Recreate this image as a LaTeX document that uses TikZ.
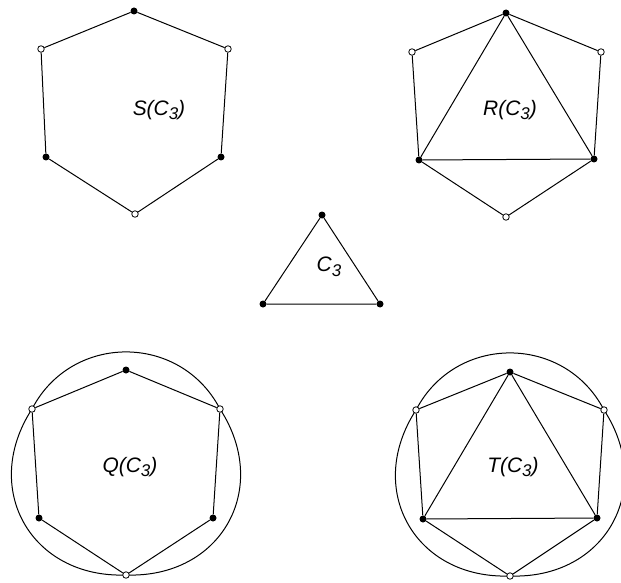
\documentclass[tikz,border=0pt]{standalone}
\usepackage{fontspec}
\setsansfont{Liberation Sans}
\usetikzlibrary{positioning}

\newcommand{\indice}[1]{\raisebox{-0.45ex}{\fontsize{17}{17}\selectfont #1}}

\tikzset{
  cheio/.style={circle, fill=black, inner sep=0pt, minimum size=7bp},
  vazio/.style={circle, draw=black, fill=white, line width=0.8bp, inner sep=0pt, minimum size=6.5bp},
  rotulo/.style={font=\sffamily\itshape\fontsize{21}{23}\selectfont, inner sep=0pt},
  aresta/.style={line width=1bp}
}

\begin{document}
\begin{tikzpicture}[x=1bp, y=-1bp]

\useasboundingbox (0,0) rectangle (621,583);

% Curvas fechadas
\draw[aresta] (32,409) .. controls (71.6,332.9) and (180.4,332.9) .. (220,409)
  .. controls (271.7,488.7) and (220.9,578.3) .. (126,575)
  .. controls (31.1,578.3) and (-19.7,488.7) .. (32,409);
\draw[aresta] (416,410) .. controls (455.6,333.9) and (564.4,333.9) .. (604,410)
  .. controls (655.7,489.7) and (604.9,579.3) .. (510,576)
  .. controls (415.1,579.3) and (364.3,489.7) .. (416,410);

% S(C3)
\node[cheio] (s1) at (134,11) {};
\node[vazio] (s2) at (41,49) {};
\node[vazio] (s3) at (228,49) {};
\node[cheio] (s4) at (46,157) {};
\node[cheio] (s5) at (221,157) {};
\node[vazio] (s6) at (135,214) {};
\draw[aresta] (s1) -- (s2) -- (s4) -- (s6) -- (s5) -- (s3) -- (s1);
\node[rotulo] (ls) at (159,110) {S(C\indice{3})};

% R(C3)
\node[cheio] (r1) at (506,13) {};
\node[vazio] (r2) at (412,52) {};
\node[vazio] (r3) at (601,52) {};
\node[cheio] (r4) at (419,160) {};
\node[cheio] (r5) at (594,159) {};
\node[vazio] (r6) at (506,217) {};
\draw[aresta] (r1) -- (r2) -- (r4) -- (r6) -- (r5) -- (r3) -- (r1);
\draw[aresta] (r1) -- (r4) -- (r5) -- (r1);
\node[rotulo] (lr) at (510,110) {R(C\indice{3})};

% C3
\node[cheio] (c1) at (322,215) {};
\node[cheio] (c2) at (263,304) {};
\node[cheio] (c3) at (380,304) {};
\draw[aresta] (c1) -- (c2) -- (c3) -- (c1);
\node[rotulo] (lc) at (329,267) {C\indice{3}};

% Q(C3)
\node[cheio] (q1) at (126,370) {};
\node[vazio] (q2) at (32,409) {};
\node[vazio] (q3) at (220,409) {};
\node[cheio] (q4) at (39,518) {};
\node[cheio] (q5) at (213,518) {};
\node[vazio] (q6) at (126,575) {};
\draw[aresta] (q1) -- (q2) -- (q4) -- (q6) -- (q5) -- (q3) -- (q1);
\node[rotulo] (lq) at (130,467) {Q(C\indice{3})};

% T(C3)
\node[cheio] (t1) at (510,372) {};
\node[vazio] (t2) at (416,410) {};
\node[vazio] (t3) at (604,410) {};
\node[cheio] (t4) at (423,519) {};
\node[cheio] (t5) at (597,518) {};
\node[vazio] (t6) at (510,576) {};
\draw[aresta] (t1) -- (t2) -- (t4) -- (t6) -- (t5) -- (t3) -- (t1);
\draw[aresta] (t1) -- (t4) -- (t5) -- (t1);
\node[rotulo] (lt) at (513,467) {T(C\indice{3})};

\end{tikzpicture}
\end{document}
